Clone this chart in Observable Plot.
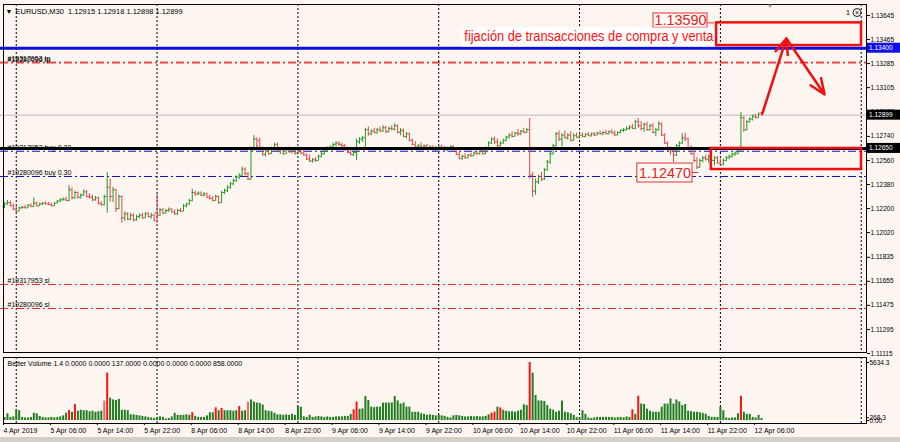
<!DOCTYPE html>
<html><head><meta charset="utf-8">
<script src="https://cdn.jsdelivr.net/npm/d3@7"></script>
<script src="https://cdn.jsdelivr.net/npm/@observablehq/plot@0.6"></script>
<style>
body{margin:0;background:#d4d0c8;}
#wrap{position:relative;width:900px;height:442px;overflow:hidden;background:#fdf6f0;font-family:"Liberation Sans",Arial,sans-serif;}
#wrap svg{position:absolute;left:0;overflow:visible;}
.strip{position:absolute;background:#d4d0c8;}
</style></head><body><div id="wrap"></div>
<script>
// ---------- DATA ----------
const symbol = "EURUSD,M30";
const lastQuote = ["1.12915","1.12918","1.12898","1.12899"];
const opens = [1.12215,1.12235,1.12245,1.12220,1.12195,1.12180,1.12205,1.12210,1.12205,1.12225,
1.12215,1.12240,1.12220,1.12235,1.12240,1.12235,1.12230,1.12220,1.12240,1.12255,
1.12265,1.12270,1.12260,1.12340,1.12280,1.12320,1.12285,1.12300,1.12325,1.12290,
1.12285,1.12265,1.12280,1.12240,1.12230,1.12290,1.12360,1.12290,1.12340,1.12200,
1.12290,1.12130,1.12160,1.12120,1.12150,1.12115,1.12140,1.12150,1.12130,1.12160,
1.12140,1.12150,1.12170,1.12150,1.12190,1.12165,1.12185,1.12195,1.12175,1.12160,
1.12185,1.12180,1.12220,1.12235,1.12260,1.12320,1.12310,1.12315,1.12300,1.12310,
1.12285,1.12275,1.12260,1.12290,1.12245,1.12320,1.12335,1.12360,1.12385,1.12410,
1.12435,1.12450,1.12495,1.12460,1.12420,1.12640,1.12720,1.12710,1.12650,1.12605,
1.12630,1.12610,1.12650,1.12680,1.12630,1.12640,1.12610,1.12640,1.12625,1.12640,
1.12615,1.12635,1.12615,1.12600,1.12570,1.12555,1.12565,1.12560,1.12590,1.12610,
1.12630,1.12655,1.12660,1.12680,1.12690,1.12680,1.12670,1.12640,1.12620,1.12605,
1.12620,1.12700,1.12720,1.12730,1.12790,1.12760,1.12780,1.12770,1.12790,1.12780,
1.12805,1.12775,1.12800,1.12795,1.12820,1.12770,1.12785,1.12740,1.12760,1.12710,
1.12680,1.12660,1.12670,1.12660,1.12670,1.12650,1.12660,1.12640,1.12650,1.12660,
1.12650,1.12640,1.12655,1.12665,1.12640,1.12605,1.12575,1.12590,1.12580,1.12600,
1.12595,1.12615,1.12610,1.12630,1.12610,1.12650,1.12690,1.12720,1.12700,1.12670,
1.12690,1.12710,1.12735,1.12750,1.12740,1.12765,1.12760,1.12780,1.12770,1.12790,
1.12450,1.12330,1.12400,1.12440,1.12420,1.12490,1.12550,1.12610,1.12670,1.12760,
1.12720,1.12750,1.12730,1.12750,1.12710,1.12745,1.12735,1.12750,1.12740,1.12755,
1.12745,1.12760,1.12750,1.12765,1.12760,1.12770,1.12760,1.12775,1.12765,1.12750,
1.12770,1.12785,1.12790,1.12800,1.12810,1.12800,1.12850,1.12820,1.12800,1.12830,
1.12790,1.12820,1.12770,1.12790,1.12835,1.12750,1.12690,1.12640,1.12630,1.12600,
1.12670,1.12690,1.12730,1.12720,1.12650,1.12610,1.12560,1.12510,1.12560,1.12580,
1.12570,1.12590,1.12560,1.12580,1.12540,1.12530,1.12560,1.12580,1.12590,1.12605,
1.12615,1.12640,1.12880,1.12790,1.12850,1.12870,1.12890,1.12880,1.12915];
const highs = [1.12245,1.12260,1.12255,1.12235,1.12215,1.12210,1.12215,1.12225,1.12230,1.12235,
1.12280,1.12250,1.12240,1.12245,1.12250,1.12245,1.12240,1.12245,1.12260,1.12275,
1.12280,1.12285,1.12370,1.12355,1.12330,1.12325,1.12310,1.12340,1.12335,1.12310,
1.12300,1.12290,1.12285,1.12250,1.12300,1.12470,1.12420,1.12360,1.12345,1.12300,
1.12295,1.12175,1.12170,1.12165,1.12160,1.12150,1.12160,1.12165,1.12170,1.12170,
1.12165,1.12160,1.12305,1.12200,1.12200,1.12195,1.12205,1.12200,1.12190,1.12195,
1.12200,1.12230,1.12240,1.12270,1.12345,1.12330,1.12325,1.12325,1.12320,1.12315,
1.12300,1.12290,1.12300,1.12295,1.12330,1.12345,1.12370,1.12395,1.12420,1.12445,
1.12460,1.12510,1.12505,1.12470,1.12660,1.12745,1.12730,1.12725,1.12660,1.12640,
1.12650,1.12660,1.12690,1.12690,1.12650,1.12645,1.12650,1.12660,1.12650,1.12655,
1.12645,1.12650,1.12640,1.12610,1.12600,1.12575,1.12580,1.12600,1.12620,1.12640,
1.12660,1.12670,1.12690,1.12700,1.12700,1.12690,1.12680,1.12660,1.12645,1.12630,
1.12720,1.12730,1.12740,1.12800,1.12810,1.12790,1.12800,1.12800,1.12810,1.12820,
1.12815,1.12810,1.12820,1.12835,1.12825,1.12800,1.12795,1.12770,1.12765,1.12720,
1.12700,1.12680,1.12690,1.12675,1.12680,1.12670,1.12670,1.12665,1.12670,1.12675,
1.12665,1.12660,1.12670,1.12670,1.12650,1.12620,1.12600,1.12610,1.12605,1.12615,
1.12625,1.12630,1.12640,1.12645,1.12660,1.12700,1.12730,1.12735,1.12720,1.12700,
1.12720,1.12740,1.12760,1.12775,1.12770,1.12790,1.12785,1.12800,1.12800,1.12874,
1.12470,1.12420,1.12450,1.12470,1.12500,1.12560,1.12620,1.12680,1.12770,1.12780,
1.12760,1.12780,1.12760,1.12775,1.12760,1.12765,1.12760,1.12765,1.12760,1.12770,
1.12765,1.12770,1.12770,1.12780,1.12775,1.12785,1.12780,1.12790,1.12780,1.12775,
1.12790,1.12800,1.12810,1.12820,1.12830,1.12860,1.12874,1.12850,1.12840,1.12845,
1.12830,1.12835,1.12800,1.12850,1.12840,1.12760,1.12700,1.12660,1.12640,1.12680,
1.12700,1.12760,1.12765,1.12730,1.12670,1.12630,1.12580,1.12570,1.12590,1.12600,
1.12600,1.12610,1.12590,1.12590,1.12570,1.12570,1.12590,1.12600,1.12615,1.12625,
1.12650,1.12919,1.12890,1.12860,1.12880,1.12900,1.12905,1.12915,1.12918];
const lows = [1.12200,1.12225,1.12215,1.12185,1.12165,1.12175,1.12195,1.12200,1.12200,1.12210,
1.12210,1.12215,1.12215,1.12225,1.12230,1.12225,1.12215,1.12215,1.12235,1.12245,
1.12255,1.12255,1.12250,1.12265,1.12270,1.12270,1.12270,1.12290,1.12280,1.12270,
1.12250,1.12255,1.12225,1.12215,1.12220,1.12165,1.12250,1.12245,1.12170,1.12190,
1.12090,1.12105,1.12110,1.12110,1.12100,1.12105,1.12125,1.12120,1.12125,1.12130,
1.12120,1.12100,1.12088,1.12140,1.12155,1.12160,1.12170,1.12165,1.12150,1.12150,
1.12170,1.12175,1.12205,1.12225,1.12250,1.12290,1.12295,1.12290,1.12285,1.12275,
1.12265,1.12250,1.12255,1.12230,1.12240,1.12305,1.12320,1.12345,1.12370,1.12395,
1.12415,1.12440,1.12445,1.12410,1.12410,1.12630,1.12650,1.12640,1.12590,1.12585,
1.12600,1.12605,1.12640,1.12620,1.12605,1.12600,1.12605,1.12615,1.12610,1.12600,
1.12600,1.12605,1.12595,1.12560,1.12545,1.12540,1.12545,1.12555,1.12580,1.12600,
1.12620,1.12640,1.12650,1.12660,1.12665,1.12655,1.12630,1.12610,1.12595,1.12590,
1.12560,1.12680,1.12695,1.12650,1.12740,1.12745,1.12760,1.12755,1.12770,1.12770,
1.12760,1.12765,1.12780,1.12780,1.12760,1.12745,1.12730,1.12720,1.12700,1.12670,
1.12650,1.12640,1.12650,1.12640,1.12645,1.12640,1.12630,1.12625,1.12635,1.12645,
1.12630,1.12625,1.12640,1.12630,1.12595,1.12565,1.12560,1.12570,1.12570,1.12585,
1.12590,1.12600,1.12600,1.12600,1.12605,1.12640,1.12680,1.12680,1.12650,1.12660,
1.12680,1.12700,1.12720,1.12730,1.12735,1.12740,1.12745,1.12760,1.12760,1.12420,
1.12283,1.12300,1.12380,1.12400,1.12410,1.12480,1.12530,1.12600,1.12660,1.12700,
1.12660,1.12720,1.12710,1.12700,1.12705,1.12725,1.12720,1.12730,1.12730,1.12740,
1.12735,1.12740,1.12745,1.12750,1.12745,1.12755,1.12750,1.12760,1.12740,1.12745,
1.12760,1.12770,1.12780,1.12785,1.12790,1.12790,1.12800,1.12780,1.12770,1.12780,
1.12780,1.12760,1.12740,1.12780,1.12740,1.12680,1.12630,1.12600,1.12545,1.12590,
1.12650,1.12680,1.12700,1.12640,1.12600,1.12540,1.12490,1.12500,1.12540,1.12555,
1.12540,1.12550,1.12520,1.12530,1.12520,1.12520,1.12550,1.12565,1.12575,1.12590,
1.12600,1.12630,1.12770,1.12780,1.12840,1.12855,1.12870,1.12875,1.12898];
const closes = [1.12235,1.12245,1.12220,1.12195,1.12180,1.12205,1.12210,1.12205,1.12225,1.12215,
1.12240,1.12220,1.12235,1.12240,1.12235,1.12230,1.12220,1.12240,1.12255,1.12265,
1.12270,1.12260,1.12340,1.12280,1.12320,1.12285,1.12300,1.12325,1.12290,1.12285,
1.12265,1.12280,1.12240,1.12230,1.12290,1.12360,1.12290,1.12340,1.12200,1.12290,
1.12130,1.12160,1.12120,1.12150,1.12115,1.12140,1.12150,1.12130,1.12160,1.12140,
1.12150,1.12110,1.12150,1.12190,1.12165,1.12185,1.12195,1.12175,1.12160,1.12185,
1.12180,1.12220,1.12235,1.12260,1.12320,1.12310,1.12315,1.12300,1.12310,1.12285,
1.12275,1.12260,1.12290,1.12245,1.12320,1.12335,1.12360,1.12385,1.12410,1.12435,
1.12450,1.12495,1.12460,1.12420,1.12640,1.12720,1.12670,1.12650,1.12605,1.12630,
1.12610,1.12650,1.12680,1.12630,1.12640,1.12610,1.12640,1.12625,1.12640,1.12615,
1.12635,1.12615,1.12600,1.12570,1.12555,1.12565,1.12560,1.12590,1.12610,1.12630,
1.12655,1.12660,1.12680,1.12690,1.12680,1.12670,1.12640,1.12620,1.12605,1.12620,
1.12700,1.12720,1.12730,1.12790,1.12760,1.12780,1.12770,1.12790,1.12780,1.12805,
1.12775,1.12800,1.12795,1.12820,1.12770,1.12785,1.12740,1.12760,1.12710,1.12680,
1.12660,1.12670,1.12660,1.12670,1.12650,1.12660,1.12640,1.12650,1.12660,1.12650,
1.12640,1.12655,1.12665,1.12640,1.12605,1.12575,1.12590,1.12580,1.12600,1.12595,
1.12615,1.12610,1.12630,1.12610,1.12650,1.12690,1.12720,1.12700,1.12670,1.12690,
1.12710,1.12735,1.12750,1.12740,1.12765,1.12760,1.12780,1.12770,1.12790,1.12450,
1.12330,1.12400,1.12440,1.12420,1.12490,1.12550,1.12610,1.12670,1.12760,1.12720,
1.12750,1.12730,1.12750,1.12710,1.12745,1.12735,1.12750,1.12740,1.12755,1.12745,
1.12760,1.12750,1.12765,1.12760,1.12770,1.12760,1.12775,1.12765,1.12750,1.12770,
1.12785,1.12790,1.12800,1.12810,1.12800,1.12850,1.12820,1.12800,1.12830,1.12790,
1.12820,1.12770,1.12790,1.12835,1.12750,1.12690,1.12640,1.12630,1.12600,1.12670,
1.12690,1.12730,1.12720,1.12650,1.12610,1.12560,1.12510,1.12560,1.12580,1.12570,
1.12590,1.12560,1.12580,1.12540,1.12530,1.12560,1.12580,1.12590,1.12605,1.12615,
1.12640,1.12880,1.12790,1.12850,1.12870,1.12890,1.12880,1.12905,1.12899];
const volumes = [300,650,300,350,1040,950,300,250,250,300,
700,650,400,300,250,250,300,250,300,350,
450,700,970,800,1550,900,1000,950,950,850,
900,800,850,900,1880,4600,2170,2000,1950,2050,
1000,1000,950,550,550,500,450,400,350,300,
250,200,300,350,300,150,200,350,700,500,
500,500,550,500,750,400,300,300,300,450,
750,750,1230,950,1170,950,950,950,900,950,
1360,900,950,1780,2000,1800,1700,1650,1500,950,
900,850,700,550,550,500,550,500,600,500,
1360,1300,350,300,500,300,350,400,350,300,
350,300,300,350,350,350,400,400,600,1040,
1780,1100,1130,2330,1950,1300,1250,1300,1300,1690,
1690,1690,1700,2330,1900,1600,1700,1300,1300,800,
800,800,650,600,500,550,500,450,500,450,
400,300,250,450,500,450,400,350,350,400,
350,400,350,350,400,550,700,820,1300,1230,
1000,900,850,850,800,900,1000,1520,1450,5634,
4600,2430,1900,1900,1850,1450,1100,1000,800,900,
1880,800,750,650,500,300,250,950,600,250,
200,250,300,300,300,300,300,300,250,300,
300,250,350,300,1040,600,2360,1600,1550,1100,
900,800,800,800,1300,1600,1600,2100,1600,2000,
1800,1450,1550,900,850,800,800,750,700,600,
400,300,300,300,1300,950,250,200,250,250,
650,2360,800,600,600,300,250,500,200];
const climaxBars = [22,24,35,64,72,74,80,119,120,166,167,169,179,214,216,251];
const lightClimaxBars = [34,83];
const volumeHeader = "Better Volume 1.4 0.0000 0.0000 137.0000 0.0000 0.0000 0.0000 858.0000";
const volumeAxisValues = [5634.3, 268.3, 0];
const volumeAxisLabels = ["5634.3", "268.3", "0.00"];
const timeLabelBars = [0,16,32,48,64,80,96,112,128,144,160,176,192,208,224,240,256];
const timeLabels = ["4 Apr 2019","5 Apr 06:00","5 Apr 14:00","5 Apr 22:00","8 Apr 06:00","8 Apr 14:00","8 Apr 22:00","9 Apr 06:00","9 Apr 14:00","9 Apr 22:00","10 Apr 06:00","10 Apr 14:00","10 Apr 22:00","11 Apr 06:00","11 Apr 14:00","11 Apr 22:00","12 Apr 06:00"];
const daySeparatorBars = [4,52,100,148,196,244,292];
const priceTicks = [1.13645,1.13465,1.13285,1.13105,1.12925,1.12740,1.12560,1.12380,1.12200,1.12020,1.11835,1.11655,1.11475,1.11295,1.11115];
const orderPrices = [1.13296,1.13290,1.12629,1.12440,1.11632,1.11452];
const orderLabels = ["#19317953 tp","#19280096 tp","#19317953 buy 0.30","#19280096 buy 0.30","#19317953 sl","#19280096 sl"];
const orderKinds = ["tp","tp","buy","buy","sl","sl"];
const blueLevel = 1.13400;
const bidLevel = 1.12899;
const blackLevel = 1.12650;
// annotations (bar index / price)
const titleText = "fijación de transacciones de compra y venta";
const titleAnchor = {bar: 241.6, price: 1.13488};
const zoneBoxes = [{b1:242.7,b2:292.1,p1:1.13590,p2:1.13420},{b1:240.9,b2:292.1,p1:1.12650,p2:1.12492}];
const arrowPath = [{b1:258.3,p1:1.12911,b2:266.5,p2:1.13473},{b1:266.5,p1:1.13473,b2:279.5,p2:1.13054}];
const priceTags = [
  {text:"1.13590", price:1.13590, b1:221.2, b2:239.6, p1:1.13660, p2:1.13553, tip:242.0},
  {text:"1.12470", price:1.12470, b1:215.7, b2:234.5, p1:1.12537, p2:1.12395, tip:236.6}
];

// ---------- CHART ----------
const upColor = "#1f9a1f", downColor = "#e2434b";
const font = "Liberation Sans, Arial, sans-serif";
const bars = opens.map((o,i)=>({i,o,h:highs[i],l:lows[i],c:closes[i]}));
const barColor = d => d.c >= d.o ? upColor : downColor;
const orders = orderPrices.map((p,k)=>({p, label:orderLabels[k], kind:orderKinds[k]}));
const xDomain = [-4/2.934, 862/2.934];
const wrap = document.getElementById("wrap");

const main = Plot.plot({
  width: 900, height: 356,
  marginLeft: 0, marginRight: 34, marginTop: 4, marginBottom: 4,
  x: {domain: xDomain, range: [0, 866], axis: null},
  y: {domain: [1.11115, 1.13645], range: [353, 15], axis: null},
  color: {type: "identity"},
  style: {background: "transparent", fontFamily: font, overflow: "visible"},
  marks: [
    Plot.ruleX(daySeparatorBars, {stroke: "#000", strokeWidth: 1, strokeDasharray: "2,2"}),
    Plot.ruleY([bidLevel], {stroke: "#b8b8b8", strokeWidth: 1}),
    Plot.ruleY(orders, {y: "p", stroke: d => d.kind === "buy" ? "#1010c8" : "#e8202c", strokeWidth: 1, strokeDasharray: "8,3,2,3"}),
    Plot.text(orders, {y: "p", text: "label", frameAnchor: "left", dx: 7, dy: -1, lineAnchor: "bottom", textAnchor: "start", fontSize: 7, fill: "#000"}),
    Plot.ruleX(bars, {x: "i", y1: "l", y2: "h", stroke: barColor, strokeWidth: 1}),
    Plot.ruleY(bars, {y: "o", x1: d => d.i - 0.5, x2: "i", stroke: barColor, strokeWidth: 1}),
    Plot.ruleY(bars, {y: "c", x1: "i", x2: d => d.i + 0.5, stroke: barColor, strokeWidth: 1}),
    Plot.ruleY([blueLevel], {stroke: "#0a10e0", strokeWidth: 3}),
    Plot.ruleY([blackLevel], {stroke: "#000", strokeWidth: 3}),
    Plot.rect(zoneBoxes, {x1: "b1", x2: "b2", y1: "p1", y2: "p2", fill: "none", stroke: "#f01010", strokeWidth: 2.5}),
    Plot.arrow(arrowPath, {x1: "b1", y1: "p1", x2: "b2", y2: "p2", stroke: "#f01010", strokeWidth: 2.5, headLength: 10, headAngle: 45}),
    Plot.rect(priceTags, {x1: "b1", x2: "b2", y1: "p1", y2: "p2", fill: "#fffaf6", stroke: "#e83030", strokeWidth: 1}),
    Plot.ruleY(priceTags, {y: "price", x1: "b2", x2: "tip", stroke: "#e83030", strokeWidth: 1}),
    Plot.text(priceTags, {x: d => (d.b1 + d.b2) / 2, y: d => (d.p1 + d.p2) / 2, text: "text", fontSize: 15, fill: "#e82020", fontFamily: "Liberation Sans Narrow, Liberation Sans, sans-serif"}),
    Plot.text([titleText], {x: titleAnchor.bar, y: titleAnchor.price, text: d => d, textAnchor: "end", fontSize: 14, fill: "#ff1010", fontFamily: "Liberation Sans Narrow, Liberation Sans, sans-serif"}),
    Plot.text([`${symbol}  ${lastQuote.join(" ")}`], {frameAnchor: "top-left", dx: 15, dy: 4, lineAnchor: "top", textAnchor: "start", text: d => d, fontSize: 7.5, fill: "#000"}),
    Plot.text(["▼"], {frameAnchor: "top-left", dx: 5, dy: 5, lineAnchor: "top", textAnchor: "start", text: d => d, fontSize: 7, fill: "#000"}),
    Plot.axisY({ticks: priceTicks, anchor: "right", tickSize: 3, tickPadding: 1, tickFormat: d => d.toFixed(5), fontSize: 6.5, label: null}),
    Plot.frame({stroke: "#000", insetLeft: 3})
  ]
});
main.style.top = "0px";
wrap.appendChild(main);

const xs = main.scale("x");
const ys = main.scale("y");
const sel = d3.select(main);

// fit the title and the price tags to their measured widths, white panel behind the title
sel.selectAll("text").each(function () {
  const t = this.textContent;
  if (t === titleText) {
    const xEnd = xs.apply(titleAnchor.bar);
    d3.select(this).attr("textLength", 249).attr("lengthAdjust", "spacingAndGlyphs");
    const yT = ys.apply(titleAnchor.price);
    d3.select(this.parentNode).insert("rect", () => this)
      .attr("x", xEnd - 252).attr("y", yT - 9).attr("width", 253).attr("height", 19).attr("fill", "#ffffff");
  }
  if (priceTags.some(p => p.text === t)) {
    d3.select(this).attr("textLength", 52).attr("lengthAdjust", "spacingAndGlyphs");
  }
});

// axis highlight tags for the live levels
[[blueLevel, "#1010e8"], [bidLevel, "#000"], [blackLevel, "#000"]].forEach(([p, bg]) => {
  const y = ys.apply(p);
  sel.append("rect").attr("x", 867).attr("y", y - 5).attr("width", 33).attr("height", 10).attr("fill", bg);
  sel.append("text").attr("x", 869).attr("y", y + 2.5).attr("text-anchor", "start").attr("fill", "#fff").attr("font-size", 6.5).attr("font-family", font).text(p.toFixed(5));
});
// top right icons
sel.append("text").attr("x", 848).attr("y", 15).attr("text-anchor", "middle").attr("font-size", 7).attr("font-family", font).text("1");
sel.append("circle").attr("cx", 857).attr("cy", 12.5).attr("r", 4).attr("fill", "none").attr("stroke", "#222");
sel.append("text").attr("x", 857).attr("y", 15).attr("text-anchor", "middle").attr("font-size", 7).attr("font-family", font).text("×");
sel.append("text").attr("x", 770).attr("y", 8).attr("text-anchor", "middle").attr("font-size", 6).attr("fill", "#888").text("▼");

const vols = volumes.map((v,i)=>({i, v, color: climaxBars.includes(i) ? "#ff1010" : lightClimaxBars.includes(i) ? "#f06a6a" : "#1f7d1f"}));
const vol = Plot.plot({
  width: 900, height: 86,
  marginLeft: 0, marginRight: 34, marginTop: 1, marginBottom: 19,
  x: {domain: xDomain, range: [0, 866], axis: null},
  y: {domain: [0, 5634.3], range: [64, 6], axis: null},
  color: {type: "identity"},
  style: {background: "transparent", fontFamily: font, overflow: "visible"},
  marks: [
    Plot.ruleX(daySeparatorBars, {stroke: "#000", strokeWidth: 1, strokeDasharray: "2,2"}),
    Plot.ruleX(vols, {x: "i", y1: 0, y2: "v", stroke: "color", strokeWidth: 2}),
    Plot.text([volumeHeader], {frameAnchor: "top-left", dx: 7, dy: 4, lineAnchor: "top", textAnchor: "start", text: d => d, fontSize: 7, fill: "#000"}),
    Plot.axisY({ticks: volumeAxisValues, anchor: "right", tickSize: 2, tickPadding: 1, tickFormat: d => volumeAxisLabels[volumeAxisValues.indexOf(d)], fontSize: 6.5, label: null}),
    Plot.axisX({ticks: timeLabelBars, anchor: "bottom", tickSize: 2, tickPadding: 3, textAnchor: "start", dx: -1, tickFormat: d => timeLabels[timeLabelBars.indexOf(d)], fontSize: 7, label: null}),
    Plot.frame({stroke: "#000", insetLeft: 3})
  ]
});
vol.style.top = "356px";
wrap.appendChild(vol);

const strip = document.createElement("div");
strip.className = "strip";
strip.style.cssText = "left:0;top:437px;width:900px;height:5px;";
wrap.appendChild(strip);
</script></body></html>
